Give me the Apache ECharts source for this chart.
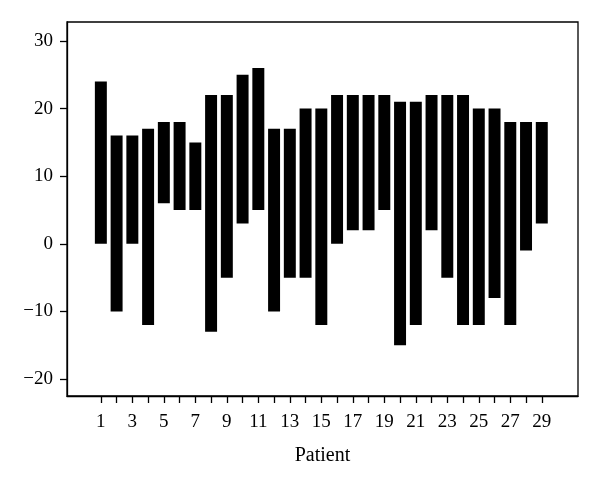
<!DOCTYPE html>
<html>
<head>
<meta charset="utf-8">
<script src="https://cdn.jsdelivr.net/npm/echarts@6/dist/echarts.min.js"></script>
<style>html,body{margin:0;padding:0;background:#fff;}#c{width:600px;height:482px;}</style>
</head>
<body>
<div id="c"></div>
<script>
const patients = [1,2,3,4,5,6,7,8,9,10,11,12,13,14,15,16,17,18,19,20,21,22,23,24,25,26,27,28,29];
const highValues = [24,16,16,17,18,18,15,22,22,25,26,17,17,20,20,22,22,22,22,21,21,22,22,22,20,20,18,18,18];
const lowValues = [0,-10,0,-12,6,5,5,-13,-5,3,5,-10,-5,-5,-12,0,2,2,5,-15,-12,2,-5,-12,-12,-8,-12,-1,3];
const xTickValues = patients;
const xLabelValues = [1,3,5,7,9,11,13,15,17,19,21,23,25,27,29];
const yTickValues = [-20,-10,0,10,20,30];

const data = patients.map((p,i)=>[p, lowValues[i], highValues[i]]);
const font = 'Liberation Serif';
const chart = echarts.init(document.getElementById('c'), null, {renderer:'canvas'});
chart.setOption({
  animation:false,
  backgroundColor:'#fff',
  grid:{left:67,right:22,top:22,bottom:86,show:true,borderColor:'#000',borderWidth:1.3,containLabel:false},
  xAxis:{
    type:'value', min:-1.15, max:31.3,
    name:'Patient', nameLocation:'middle', nameGap:50,
    nameTextStyle:{fontFamily:font,fontSize:20,color:'#000'},
    axisLine:{show:true,onZero:false,lineStyle:{color:'#000',width:1.3}},
    axisTick:{show:true,length:7,lineStyle:{color:'#000',width:1.3},customValues:xTickValues},
    axisLabel:{fontFamily:font,fontSize:19,color:'#000',margin:17,customValues:xLabelValues},
    splitLine:{show:false}
  },
  yAxis:{
    type:'value', min:-22.5, max:32.8,
    axisLine:{show:true,onZero:false,lineStyle:{color:'#000',width:1.3}},
    axisTick:{show:true,length:7,lineStyle:{color:'#000',width:1.3},customValues:yTickValues},
    axisLabel:{fontFamily:font,fontSize:19,color:'#000',margin:14,customValues:yTickValues,
      formatter:v=> v<0 ? '\u2212'+Math.abs(v) : String(v)},
    splitLine:{show:false}
  },
  series:[{
    type:'custom',
    data:data,
    encode:{x:0,y:[1,2]},
    renderItem:function(params, api){
      const x = api.value(0);
      const lo = api.value(1);
      const hi = api.value(2);
      const pTop = api.coord([x, hi]);
      const pBot = api.coord([x, lo]);
      const w = api.size([0.76, 0])[0];
      return {type:'rect', shape:{x:pTop[0]-w/2, y:pTop[1], width:w, height:pBot[1]-pTop[1]},
        style:{fill:'#000'}};
    }
  }]
});
</script>
</body>
</html>
